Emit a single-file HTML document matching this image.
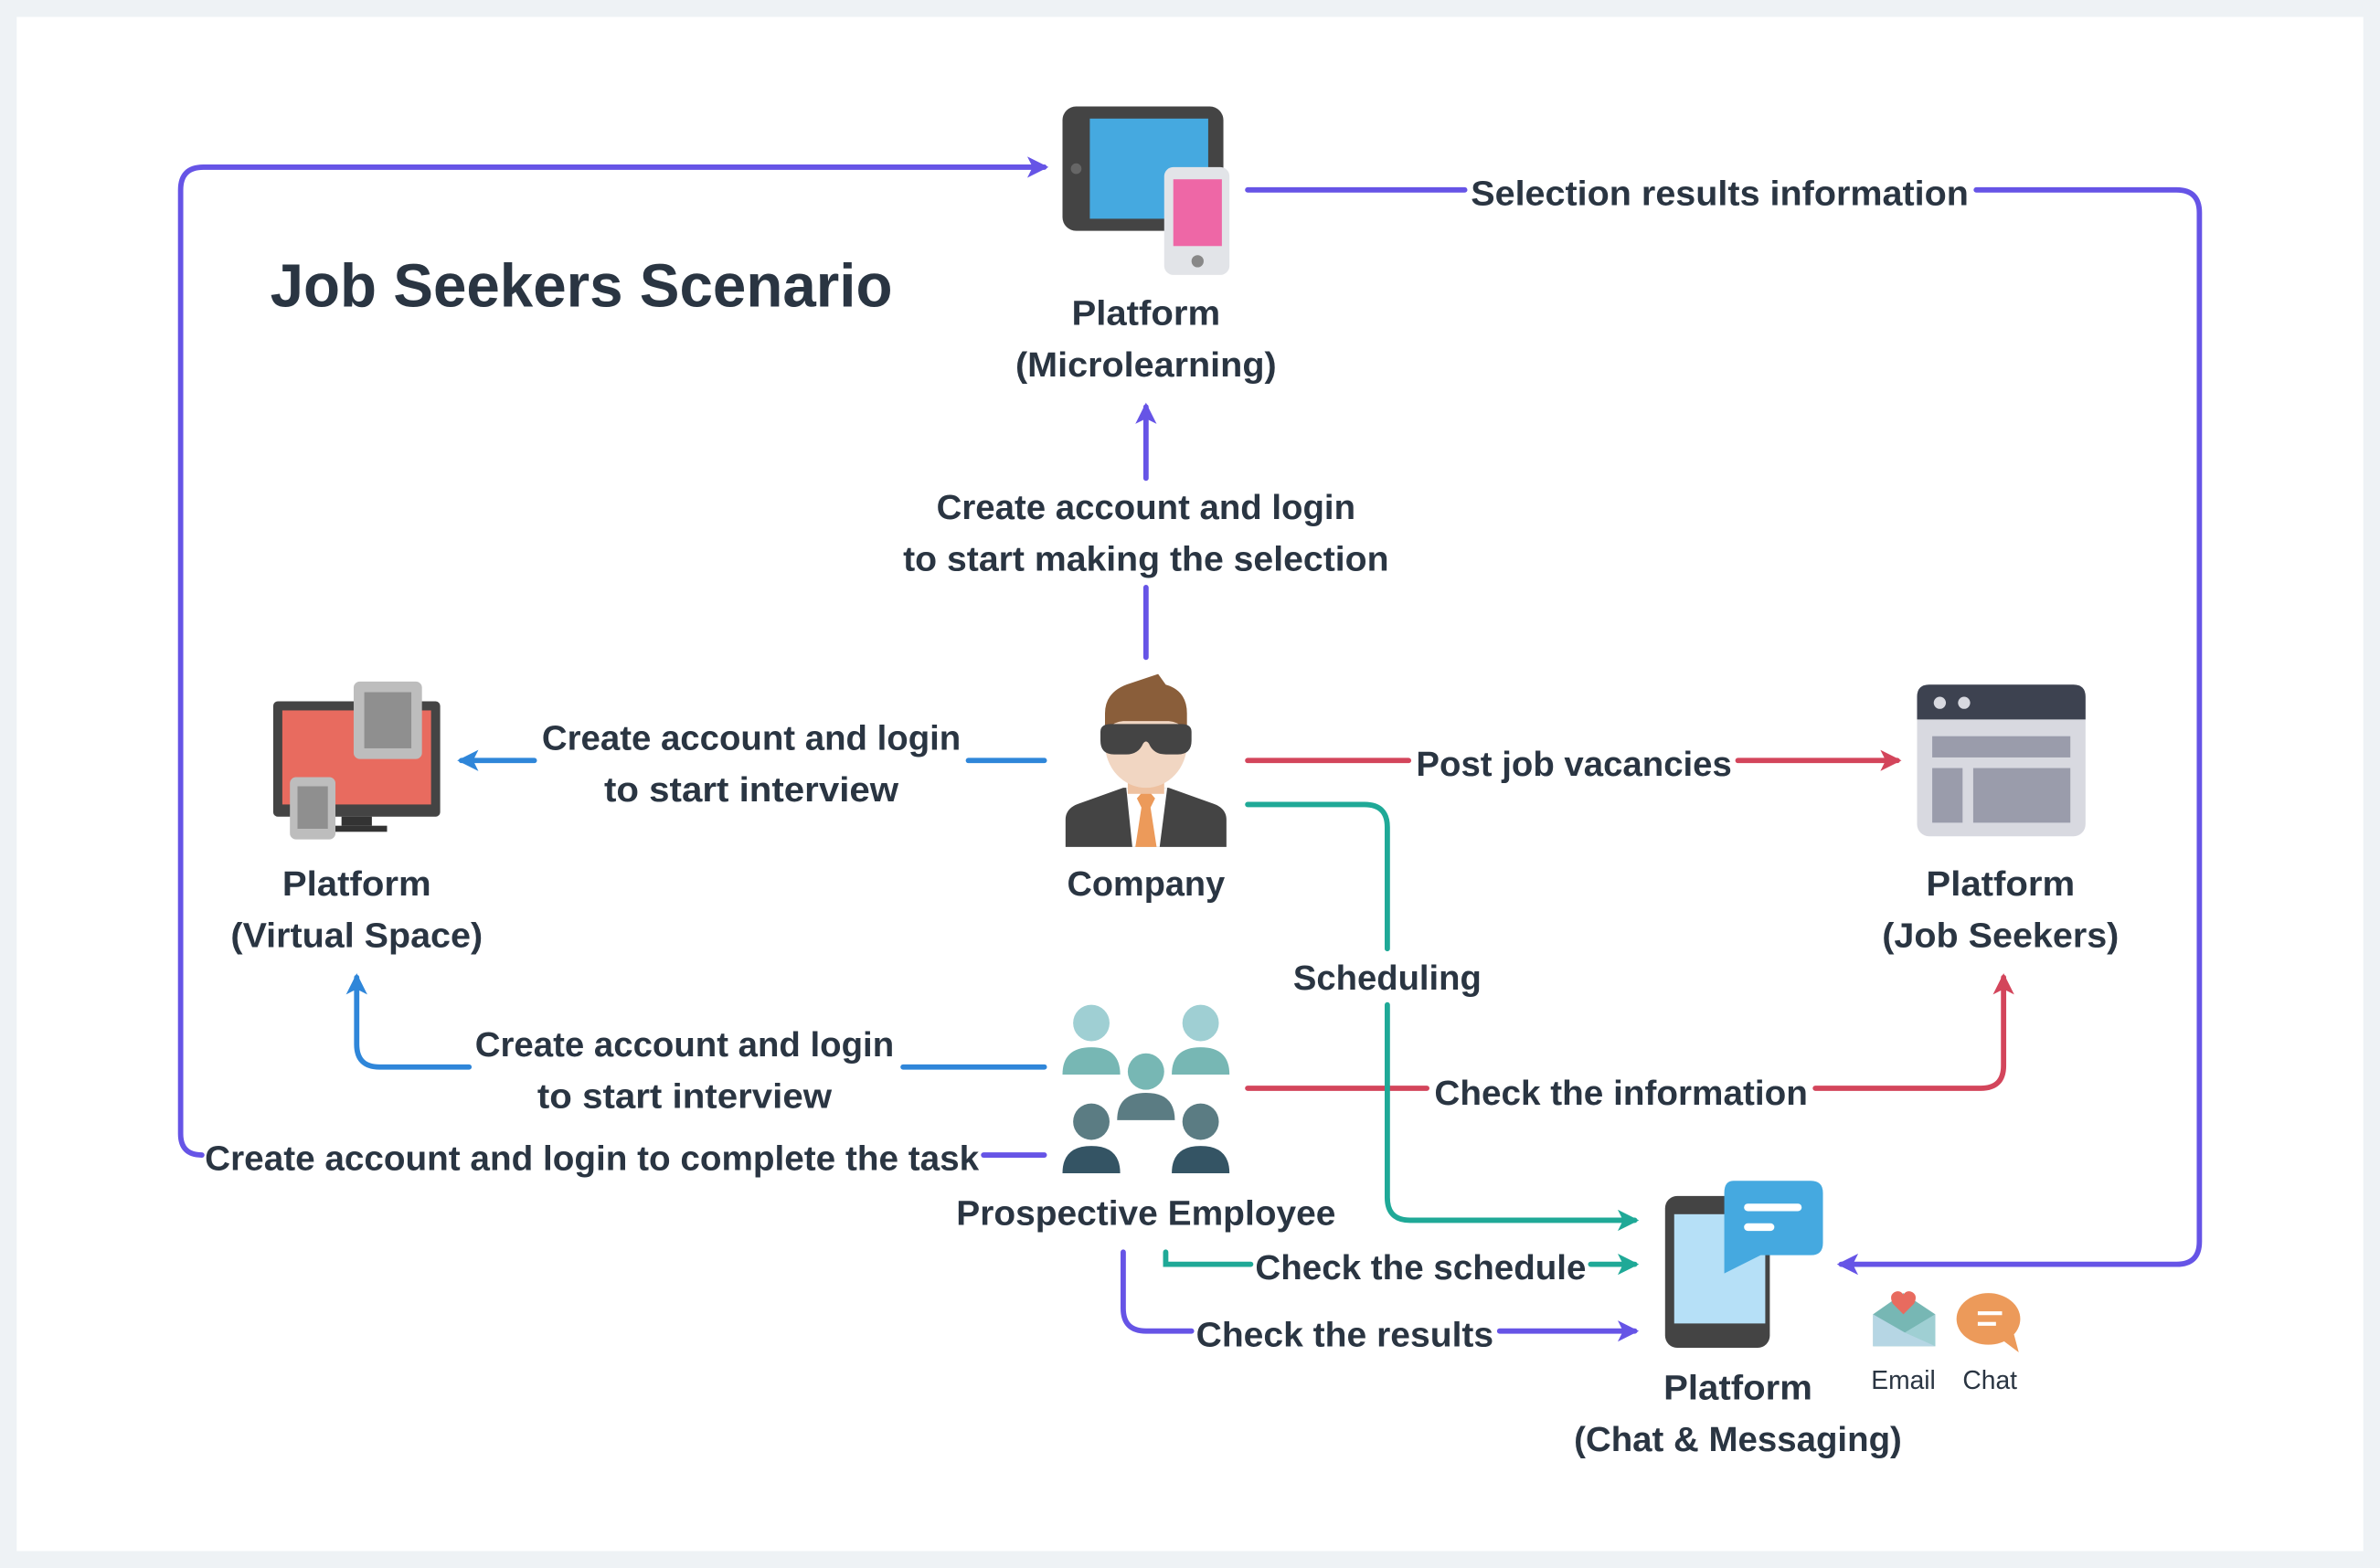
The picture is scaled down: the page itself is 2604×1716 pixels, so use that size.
<!DOCTYPE html>
<html><head><meta charset="utf-8"><style>
html,body{margin:0;padding:0;background:#eef2f5;}
svg{display:block;}
text{font-family:"Liberation Sans",sans-serif;font-weight:bold;fill:#2a3542;}
</style></head><body>
<svg width="2604" height="1716" viewBox="0 0 1568 1033" xmlns="http://www.w3.org/2000/svg">
<defs>
<marker id="mp" viewBox="0 0 10 10" refX="8" refY="5" markerWidth="4" markerHeight="4" orient="auto" markerUnits="strokeWidth"><path d="M0,0 L10,5 L0,10 L2.5,5z" fill="#6654e6"/></marker>
<marker id="mb" viewBox="0 0 10 10" refX="8" refY="5" markerWidth="4" markerHeight="4" orient="auto" markerUnits="strokeWidth"><path d="M0,0 L10,5 L0,10 L2.5,5z" fill="#2f86d9"/></marker>
<marker id="mr" viewBox="0 0 10 10" refX="8" refY="5" markerWidth="4" markerHeight="4" orient="auto" markerUnits="strokeWidth"><path d="M0,0 L10,5 L0,10 L2.5,5z" fill="#d3455b"/></marker>
<marker id="mt" viewBox="0 0 10 10" refX="8" refY="5" markerWidth="4" markerHeight="4" orient="auto" markerUnits="strokeWidth"><path d="M0,0 L10,5 L0,10 L2.5,5z" fill="#1fa997"/></marker>
</defs>
<rect x="0" y="0" width="1568" height="1033" fill="#eef2f5"/>
<rect x="11" y="11" width="1546" height="1011" fill="#fff"/>
<g fill="none" stroke-width="3.5" stroke-linecap="round">
<path d="M133,761 Q119,761 119,747 V125 Q119,110 134,110 H688" stroke="#6654e6" marker-end="url(#mp)"/>
<path d="M648,761 H688" stroke="#6654e6"/>
<path d="M822,125 H965" stroke="#6654e6"/>
<path d="M1302,125 H1434 Q1449,125 1449,140 V818 Q1449,833 1434,833 H1213" stroke="#6654e6" marker-end="url(#mp)"/>
<path d="M755,315 V268" stroke="#6654e6" marker-end="url(#mp)"/>
<path d="M755,387 V433" stroke="#6654e6"/>
<path d="M688,501 H638" stroke="#2f86d9"/>
<path d="M352,501 H304" stroke="#2f86d9" marker-end="url(#mb)"/>
<path d="M688,703 H595" stroke="#2f86d9"/>
<path d="M309,703 H250 Q235,703 235,688 V644" stroke="#2f86d9" marker-end="url(#mb)"/>
<path d="M822,501 H928" stroke="#d3455b"/>
<path d="M1145,501 H1250" stroke="#d3455b" marker-end="url(#mr)"/>
<path d="M822,717 H940" stroke="#d3455b"/>
<path d="M1196,717 H1305 Q1320,717 1320,702 V644" stroke="#d3455b" marker-end="url(#mr)"/>
<path d="M822,530 H899 Q914,530 914,545 V625" stroke="#1fa997"/>
<path d="M914,662 V789 Q914,804 929,804 H1077" stroke="#1fa997" marker-end="url(#mt)"/>
<path d="M768,825 V833 H824" stroke="#1fa997"/>
<path d="M1048,833 H1077" stroke="#1fa997" marker-end="url(#mt)"/>
<path d="M740,825 V862 Q740,877 755,877 H785" stroke="#6654e6"/>
<path d="M988,877 H1077" stroke="#6654e6" marker-end="url(#mp)"/>
</g>

<text x="178" y="202" font-size="40" textLength="410" lengthAdjust="spacingAndGlyphs">Job Seekers Scenario</text>

<rect x="700" y="70" width="106" height="82" rx="9" fill="#444"/>
<rect x="718" y="78" width="78" height="66" fill="#45a9e0"/>
<circle cx="709" cy="111" r="3.5" fill="#666"/>
<rect x="767" y="110" width="43" height="71" rx="6" fill="#e2e4e8"/>
<rect x="773" y="118" width="32" height="44" fill="#ee67a6"/>
<circle cx="789" cy="172" r="4" fill="#888"/>
<g font-size="23" text-anchor="middle">
<text x="755" y="214" textLength="98" lengthAdjust="spacingAndGlyphs">Platform</text>
<text x="755" y="248" textLength="172" lengthAdjust="spacingAndGlyphs">(Microlearning)</text>
<text x="755" y="342" textLength="276" lengthAdjust="spacingAndGlyphs">Create account and login</text>
<text x="755" y="376" textLength="320" lengthAdjust="spacingAndGlyphs">to start making the selection</text>
<text x="755" y="590" textLength="104" lengthAdjust="spacingAndGlyphs">Company</text>
<text x="235" y="590" textLength="98" lengthAdjust="spacingAndGlyphs">Platform</text>
<text x="235" y="624" textLength="166" lengthAdjust="spacingAndGlyphs">(Virtual Space)</text>
<text x="495" y="494" textLength="276" lengthAdjust="spacingAndGlyphs">Create account and login</text>
<text x="495" y="528" textLength="194" lengthAdjust="spacingAndGlyphs">to start interview</text>
<text x="1037" y="511" textLength="208" lengthAdjust="spacingAndGlyphs">Post job vacancies</text>
<text x="1318" y="590" textLength="98" lengthAdjust="spacingAndGlyphs">Platform</text>
<text x="1318" y="624" textLength="156" lengthAdjust="spacingAndGlyphs">(Job Seekers)</text>
<text x="914" y="652" textLength="124" lengthAdjust="spacingAndGlyphs">Scheduling</text>
<text x="451" y="696" textLength="276" lengthAdjust="spacingAndGlyphs">Create account and login</text>
<text x="451" y="730" textLength="194" lengthAdjust="spacingAndGlyphs">to start interview</text>
<text x="1068" y="728" textLength="246" lengthAdjust="spacingAndGlyphs">Check the information</text>
<text x="390" y="771" textLength="510" lengthAdjust="spacingAndGlyphs">Create account and login to complete the task</text>
<text x="755" y="807" textLength="250" lengthAdjust="spacingAndGlyphs">Prospective Employee</text>
<text x="936" y="843" textLength="218" lengthAdjust="spacingAndGlyphs">Check the schedule</text>
<text x="886" y="887" textLength="196" lengthAdjust="spacingAndGlyphs">Check the results</text>
<text x="1133" y="135" textLength="328" lengthAdjust="spacingAndGlyphs">Selection results information</text>
<text x="1145" y="922" textLength="98" lengthAdjust="spacingAndGlyphs">Platform</text>
<text x="1145" y="956" textLength="216" lengthAdjust="spacingAndGlyphs">(Chat &amp; Messaging)</text>
</g>
<g font-size="17" text-anchor="middle">
<text x="1254" y="915" style="font-weight:normal">Email</text>
<text x="1311" y="915" style="font-weight:normal">Chat</text>
</g>

<path d="M702,558 V540 Q702,532 712,529 L740,519 H770 L798,529 Q808,532 808,540 V558 Z" fill="#444"/>
<path d="M742,519 L746,558 H764 L769,519 Z" fill="#fff"/>
<path d="M755,519 L749,526 L752,532 L748,558 H762 L758,532 L761,526 Z" fill="#ec9a5a"/>
<rect x="743" y="505" width="24" height="18" fill="#eec1a0"/>
<ellipse cx="755" cy="490" rx="27" ry="29" fill="#f1d6c2"/>
<path d="M728,490 V470 Q728,455 745,450 L763,444 L768,451 Q782,455 782,470 V490 Q782,476 770,475 H740 Q728,476 728,490Z" fill="#8a5e3a"/>
<path d="M725,482 Q725,477 732,477 H778 Q785,477 785,482 V488 Q785,497 776,497 H768 Q760,497 757,490 Q755,487 753,490 Q750,497 742,497 H734 Q725,497 725,488Z" fill="#444"/>

<g>
<circle cx="719" cy="674" r="12" fill="#9fcfd3"/><path d="M700,708 Q700,690 719,690 Q738,690 738,708Z" fill="#77b7b4"/>
<circle cx="791" cy="674" r="12" fill="#9fcfd3"/><path d="M772,708 Q772,690 791,690 Q810,690 810,708Z" fill="#77b7b4"/>
<circle cx="755" cy="706" r="12" fill="#77b7b4"/><path d="M736,738 Q736,720 755,720 Q774,720 774,738Z" fill="#5b7c83"/>
<circle cx="719" cy="739" r="12" fill="#5b7c83"/><path d="M700,773 Q700,755 719,755 Q738,755 738,773Z" fill="#345464"/>
<circle cx="791" cy="739" r="12" fill="#5b7c83"/><path d="M772,773 Q772,755 791,755 Q810,755 810,773Z" fill="#345464"/>
</g>

<rect x="180" y="462" width="110" height="76" rx="3" fill="#444"/>
<rect x="186" y="468" width="98" height="62" fill="#e86b5f"/>
<rect x="225" y="538" width="20" height="6" fill="#333"/><rect x="215" y="544" width="40" height="4" fill="#333"/>
<rect x="233" y="449" width="45" height="51" rx="4" fill="#bdbdbd"/>
<rect x="240" y="456" width="31" height="37" fill="#8f8f8f"/>
<rect x="191" y="512" width="30" height="41" rx="4" fill="#bdbdbd"/>
<rect x="196" y="518" width="20" height="28" fill="#8f8f8f"/>

<rect x="1263" y="451" width="111" height="100" rx="8" fill="#d8d9e0"/>
<path d="M1263,474 V459 Q1263,451 1271,451 H1366 Q1374,451 1374,459 V474Z" fill="#3d4250"/>
<circle cx="1278" cy="463" r="4" fill="#d8d9e0"/><circle cx="1294" cy="463" r="4" fill="#d8d9e0"/>
<rect x="1273" y="485" width="91" height="14" fill="#9a9cab"/>
<rect x="1273" y="506" width="20" height="36" fill="#9a9cab"/>
<rect x="1300" y="506" width="64" height="36" fill="#9a9cab"/>

<rect x="1097" y="788" width="69" height="100" rx="8" fill="#444"/>
<rect x="1103" y="800" width="60" height="72" fill="#b6e0f7"/>
<path d="M1142,778 H1193 Q1201,778 1201,786 V819 Q1201,827 1193,827 H1160 L1136,839 V786 Q1136,778 1142,778Z" fill="#45a9e0"/>
<rect x="1149" y="793" width="38" height="5" rx="2.5" fill="#fff"/>
<rect x="1149" y="806" width="20" height="5" rx="2.5" fill="#fff"/>

<path d="M1234,866 L1254,852 L1275,866 V887 H1234Z" fill="#77b7b4"/>
<path d="M1234,866 L1255,878 L1275,866 V887 H1234Z" fill="#b6d6e4"/>
<path d="M1255,878 L1275,866 V887Z" fill="#9fcfd3"/>
<path d="M1254,866 L1247,859 Q1244,853 1249,851 Q1252,850 1254,853 Q1256,850 1259,851 Q1264,853 1261,859Z" fill="#e86b5f"/>
<ellipse cx="1310" cy="869" rx="21" ry="17" fill="#ec9a5a"/>
<path d="M1318,882 L1330,891 L1326,876Z" fill="#ec9a5a"/>
<rect x="1303" y="864" width="16" height="2.5" fill="#fff"/><rect x="1303" y="871" width="12" height="2.5" fill="#fff"/>
</svg>
</body></html>
